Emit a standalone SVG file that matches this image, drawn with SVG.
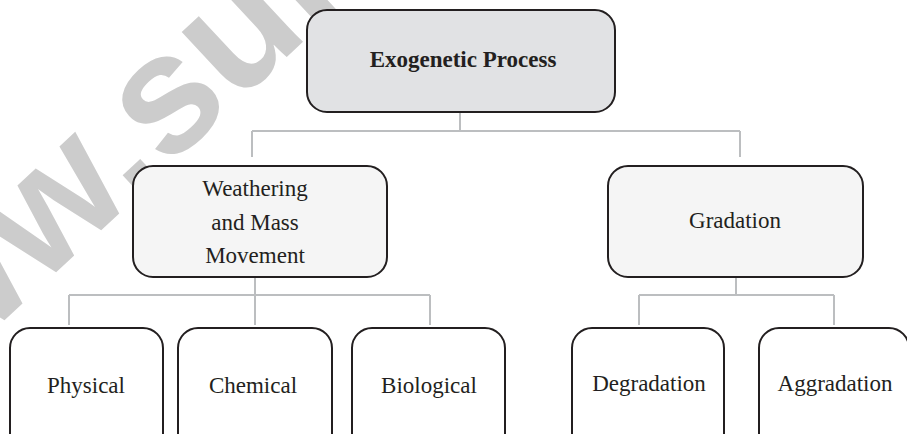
<svg xmlns="http://www.w3.org/2000/svg" width="907" height="434" viewBox="0 0 907 434">
  <style>
    .box { stroke: #231f20; stroke-width: 2; }
    .l0 { fill: #e1e2e4; }
    .l1 { fill: #f5f5f5; }
    .l2 { fill: #ffffff; }
    .t { font-family: "Liberation Serif", "Times New Roman", serif; font-size: 23px; fill: #231f20; text-anchor: middle; }
    .b { font-weight: bold; }
    .conn { stroke: #bcbec0; stroke-width: 2; fill: none; }
    .wm { font-family: "Liberation Sans", Arial, sans-serif; font-weight: bold; font-size: 170px; fill: #cccccc; }
  </style>
  <rect width="907" height="434" fill="#ffffff"/>
  <text class="wm" transform="translate(-154,468) rotate(-43)">www.sur</text>

  <g id="connectors">
    <path class="conn" d="M460,112 V131 M252,131 H740 M252,131 V157 M740,131 V157"/>
    <path class="conn" d="M255,277 V295 M69,295 H430 M69,295 V325 M255,295 V325 M430,295 V325"/>
    <path class="conn" d="M736,277 V295 M639,295 H834 M639,295 V325 M834,295 V325"/>
  </g>

  <g id="exogenetic">
    <rect class="box l0" x="307" y="10" width="308" height="102" rx="20"/>
    <text class="t b" x="463" y="67">Exogenetic Process</text>
  </g>
  <g id="weathering">
    <rect class="box l1" x="133" y="166" width="254" height="111" rx="20"/>
    <text class="t" x="255" y="196">Weathering</text>
    <text class="t" x="255" y="230">and Mass</text>
    <text class="t" x="255" y="263">Movement</text>
  </g>
  <g id="gradation">
    <rect class="box l1" x="608" y="166" width="255" height="111" rx="20"/>
    <text class="t" x="735" y="228">Gradation</text>
  </g>
  <g id="physical">
    <rect class="box l2" x="10" y="328" width="153" height="130" rx="20"/>
    <text class="t" x="86" y="393">Physical</text>
  </g>
  <g id="chemical">
    <rect class="box l2" x="178" y="328" width="154" height="130" rx="20"/>
    <text class="t" x="253" y="393">Chemical</text>
  </g>
  <g id="biological">
    <rect class="box l2" x="352" y="328" width="153" height="130" rx="20"/>
    <text class="t" x="429" y="393">Biological</text>
  </g>
  <g id="degradation">
    <rect class="box l2" x="572" y="328" width="152" height="130" rx="20"/>
    <text class="t" x="649" y="391">Degradation</text>
  </g>
  <g id="aggradation">
    <rect class="box l2" x="759" y="328" width="150" height="130" rx="20"/>
    <text class="t" x="835" y="391">Aggradation</text>
  </g>
</svg>
